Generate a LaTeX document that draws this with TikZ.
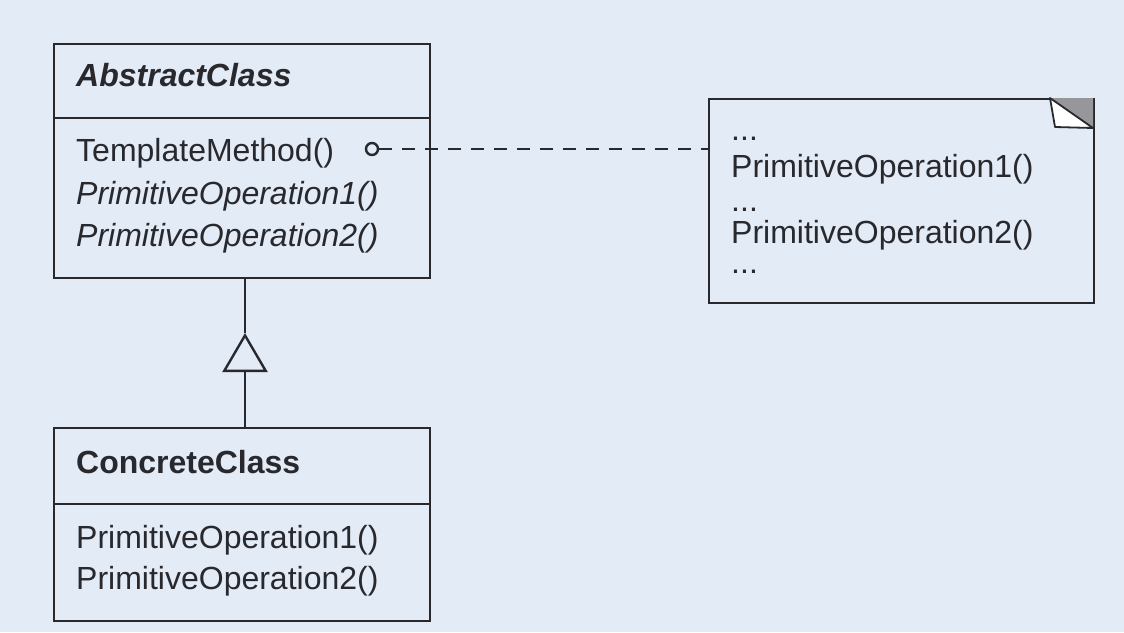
\documentclass[tikz,border=0pt]{standalone}
\usepackage{fontspec}
\setmainfont{Liberation Sans}
\usetikzlibrary{arrows.meta}
\definecolor{bgblue}{RGB}{226,235,246}
\definecolor{ink}{RGB}{40,40,45}
\definecolor{foldgray}{RGB}{150,150,155}
\begin{document}
\begin{tikzpicture}[x=0.5pt, y=-0.5pt, line width=1.2pt, color=ink,
    every node/.style={font=\fontsize{16pt}{20pt}\selectfont},
    part/.style={draw, rectangle, anchor=north west, inner sep=0pt, minimum width=188pt},
    txt/.style={anchor=base west, inner sep=0pt}]
  \fill[bgblue] (0,0) rectangle (1124,632);
  \useasboundingbox (0,0) rectangle (1124,632);
  % abstract class
  \node[part, minimum height=37pt] (abshead) at (53,43) {};
  \node[part, minimum height=80pt] (absbody) at (53,117) {};
  \node[txt] (absname) at (75,86) {\textbf{\textit{AbstractClass}}};
  \node[txt] (tmpl) at (75,161) {TemplateMethod()};
  \node[txt] (absop1) at (75,204) {\textit{PrimitiveOperation1()}};
  \node[txt] (absop2) at (75,246) {\textit{PrimitiveOperation2()}};
  % concrete class
  \node[part, minimum height=38pt] (conhead) at (53,427) {};
  \node[part, minimum height=58.5pt] (conbody) at (53,503) {};
  \node[txt] (conname) at (75,473) {\textbf{ConcreteClass}};
  \node[txt] (conop1) at (75,548) {PrimitiveOperation1()};
  \node[txt] (conop2) at (75,589) {PrimitiveOperation2()};
  % note
  \node[part, minimum width=192.5pt, minimum height=102pt] (note) at (708,98) {};
  \fill[foldgray] (1050,98) -- (1093,98) -- (1093,128) -- cycle;
  \draw[fill=white, line width=0.9pt, line join=round] (1050,98) -- (1055,127) -- (1093,128) -- cycle;
  \node[txt] (dots1) at (730,140) {...};
  \node[txt] (noteop1) at (730,177) {PrimitiveOperation1()};
  \node[txt] (dots2) at (730,211) {...};
  \node[txt] (noteop2) at (730,243) {PrimitiveOperation2()};
  \node[txt] (dots3) at (730,273) {...};
  % connectors
  \node[shape=circle, draw, inner sep=0pt, minimum size=6pt] (hook) at (372,149) {};
  \draw[dash pattern=on 6.5pt off 5pt] (hook.east) -- (note.west |- hook);
  \coordinate (apex) at (245,333);
  \draw (apex |- absbody.south) -- (apex);
  \draw[-{Triangle[open, length=19.5pt, width=22.5pt]}] (apex |- conhead.north) -- (apex);
\end{tikzpicture}
\end{document}
